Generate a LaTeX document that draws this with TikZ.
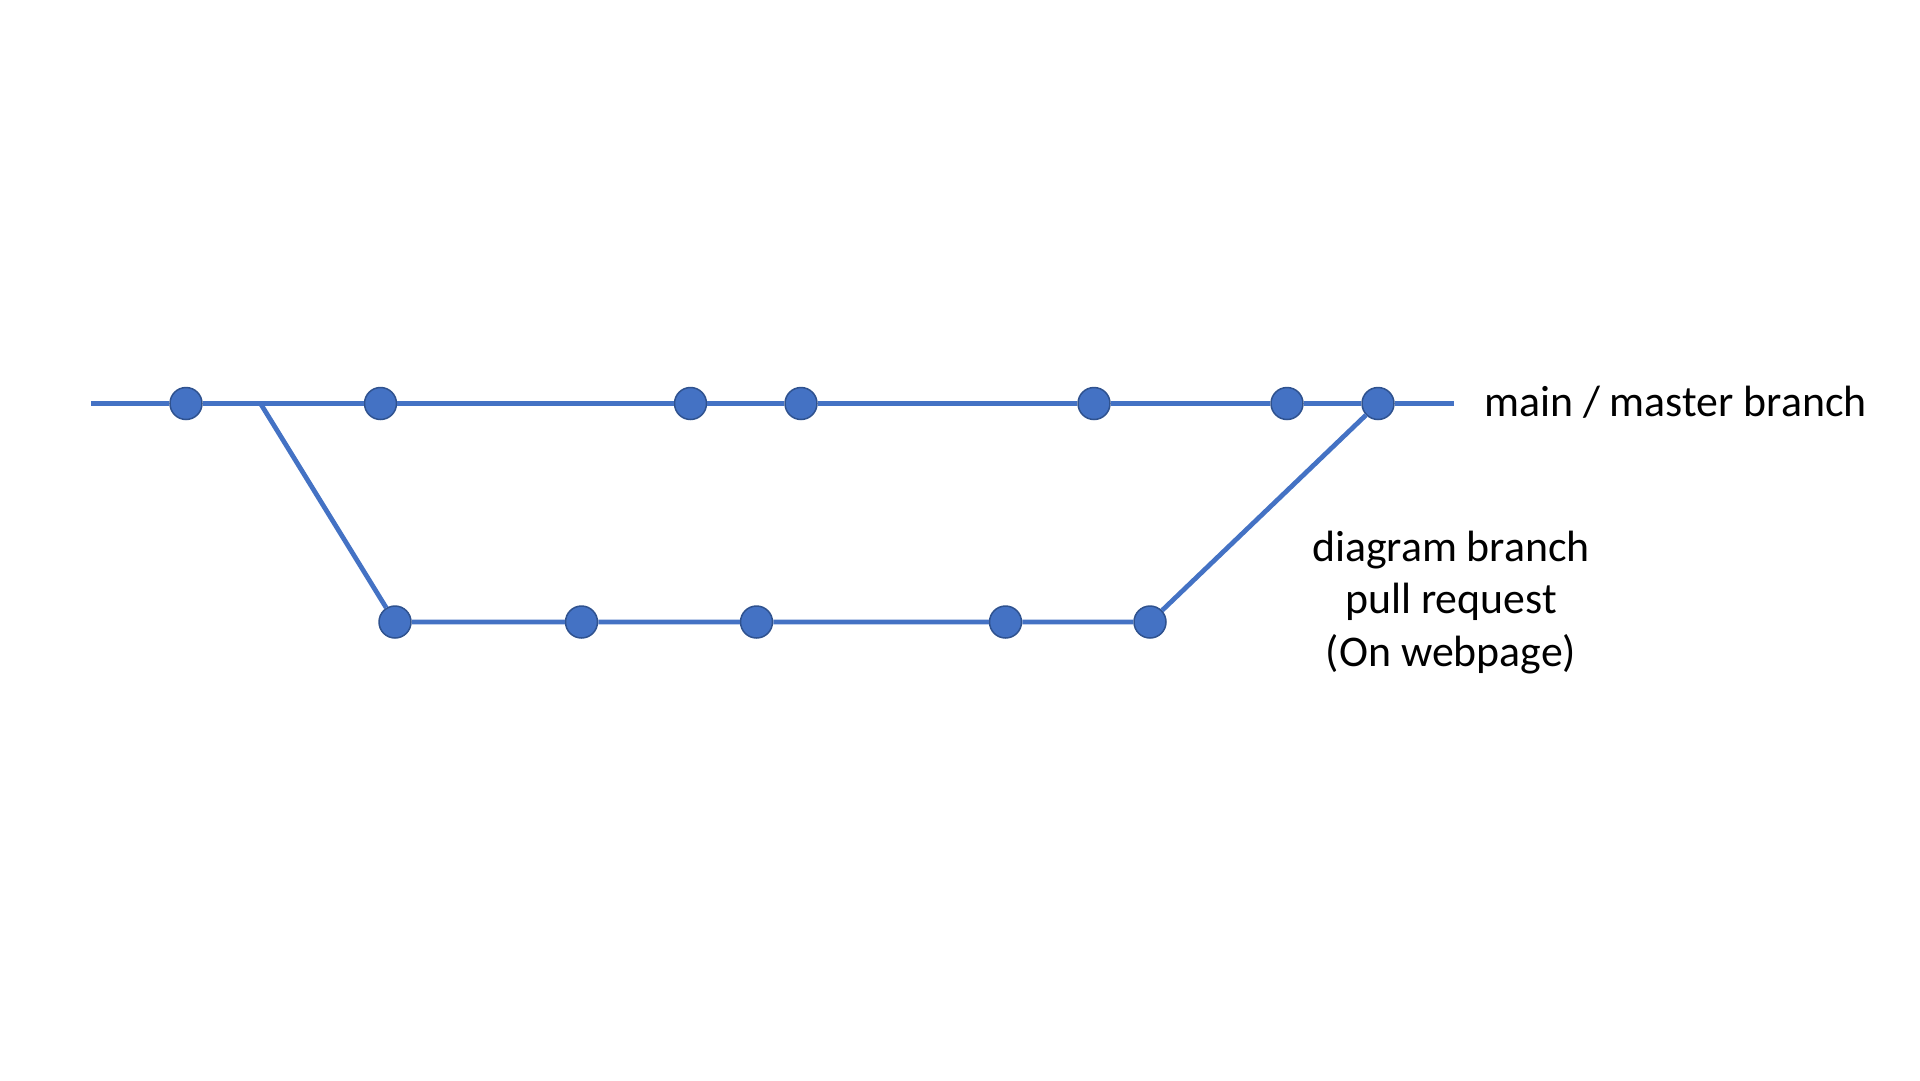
\documentclass[tikz,border=0pt]{standalone}
\usepackage{fontspec}
\setmainfont{Carlito}
\definecolor{branchblue}{HTML}{4472C4}
\definecolor{commitedge}{HTML}{2F528F}
\begin{document}
\begin{tikzpicture}[x=1pt,y=-1pt,
  commit/.style={circle,fill=branchblue,draw=commitedge,line width=1.5pt,minimum size=32pt,inner sep=0pt},
  branchline/.style={draw=branchblue,line width=4.75pt},
  lbl/.style={inner sep=0pt,font=\fontsize{43.8}{52.5}\selectfont}]
\useasboundingbox[fill=white] (0,0) rectangle (1920,1080);
% main branch commits
\coordinate (mstart) at (91,403.5);
\coordinate (mend) at (1453.5,403.5);
\coordinate (fork) at (260.5,403.5);
\node[commit] (m1) at (186,403.5) {};
\node[commit] (m2) at (380.5,403.5) {};
\node[commit] (m3) at (690.5,403.5) {};
\node[commit] (m4) at (801,403.5) {};
\node[commit] (m5) at (1094,403.5) {};
\node[commit] (m6) at (1287,403.5) {};
\node[commit] (m7) at (1378,403.5) {};
% diagram branch commits
\node[commit] (d1) at (395,622) {};
\node[commit] (d2) at (581.5,622) {};
\node[commit] (d3) at (756.5,622) {};
\node[commit] (d4) at (1005.5,622) {};
\node[commit] (d5) at (1150,622) {};
% connectors
\path[branchline] (mstart) -- (m1) -- (fork) -- (m2) -- (m3) -- (m4) -- (m5) -- (m6) -- (m7) -- (mend);
\path[branchline] (fork) -- (d1) -- (d2) -- (d3) -- (d4) -- (d5) -- (m7);
% labels
\node[lbl,anchor=base west] (mainlbl) at (1484,416) {main / master branch};
\node[lbl,anchor=base] (dl1) at (1451,561) {diagram branch};
\node[lbl,anchor=base] (dl2) at (1451,613.5) {pull request};
\node[lbl,anchor=base] (dl3) at (1451,666) {(On webpage)};
\end{tikzpicture}
\end{document}
